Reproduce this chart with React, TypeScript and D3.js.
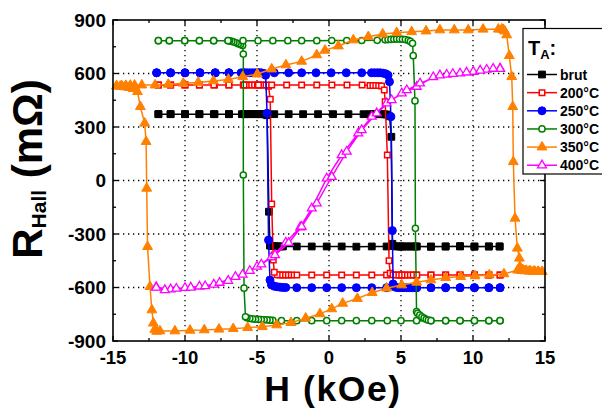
import React from 'react';
import * as d3 from 'd3';

type Pt = [number, number];

// H (kOe), R_Hall (mΩ) — descending sweep then ascending sweep
const brut: Pt[] = [
  [11.85,-370],[11.1,-370],[10.1,-371],[9.1,-370],[8.1,-370],[7.08,-372],[6.05,-370],[5.0,-370],[4.0,-370],[2.97,-370],[1.9,-371],[0.88,-370],[-0.16,-370],[-1.2,-370],[-2.24,-370],[-3.2,-370],[-3.4,-370],[-3.6,-369],[-3.8,-368],[-4.0,-367],[-4.1,-365],[-4.17,-175],[-4.3,366],[-4.45,371],[-4.65,372],[-4.85,372],[-5.05,372],[-5.25,372],[-5.45,372],[-5.65,372],[-5.85,372],[-6.05,372],[-6.95,372],[-7.95,372],[-9.0,372],[-10.0,372],[-11.0,372],[-11.85,372],
  [-11.85,372],[-11.0,372],[-10.0,372],[-9.0,372],[-8.0,372],[-6.95,372],[-5.9,372],[-4.85,372],[-3.8,372],[-2.8,372],[-1.8,372],[-0.76,372],[0.28,372],[1.35,372],[2.4,372],[2.85,372],[3.05,372],[3.25,372],[3.45,372],[3.65,372],[3.85,371],[4.0,370],[4.2,360],[4.33,245],[4.4,-355],[4.5,-368],[4.7,-370],[4.9,-370],[5.1,-370],[5.3,-370],[5.5,-370],[5.7,-370],[5.9,-370],[6.1,-370],[7.08,-370],[8.1,-370],[9.1,-368],[10.1,-370],[11.1,-370],[11.85,-370],
];

const t200: Pt[] = [
  [11.88,-530],[11.1,-530],[10.1,-530],[9.1,-530],[8.1,-530],[7.08,-530],[6.05,-530],[5.0,-530],[4.0,-530],[2.97,-530],[1.9,-530],[0.88,-530],[-0.16,-530],[-1.2,-530],[-2.24,-530],[-2.6,-530],[-2.8,-530],[-3.0,-530],[-3.2,-530],[-3.4,-530],[-3.6,-528],[-3.8,-515],[-3.87,-446],[-3.98,-132],[-4.08,455],[-4.2,528],[-4.35,535],[-4.55,535],[-4.75,535],[-4.95,535],[-5.15,535],[-5.35,535],[-5.55,535],[-5.75,535],[-5.95,535],[-6.95,535],[-7.95,535],[-9.0,535],[-10.0,535],[-11.0,535],[-11.85,535],
  [-11.85,535],[-11.0,535],[-10.0,535],[-9.0,535],[-8.0,535],[-6.95,535],[-5.9,535],[-4.9,535],[-3.98,535],[-2.94,535],[-1.9,535],[-0.85,535],[0.2,535],[1.25,535],[2.3,535],[2.85,533],[3.05,533],[3.25,533],[3.45,532],[3.65,530],[3.84,507],[3.9,442],[4.05,143],[4.17,-450],[4.25,-520],[4.45,-528],[4.65,-530],[4.85,-530],[5.05,-530],[5.25,-530],[5.45,-530],[5.65,-530],[5.85,-530],[6.1,-530],[7.08,-530],[8.1,-530],[9.1,-530],[10.1,-530],[11.1,-530],[11.88,-530],
];

const t250: Pt[] = [
  [11.88,-601],[11.1,-601],[10.1,-601],[9.1,-601],[8.1,-601],[7.08,-601],[6.05,-601],[5.0,-601],[4.0,-601],[2.97,-601],[1.9,-601],[0.88,-601],[-0.16,-601],[-1.2,-601],[-2.24,-601],[-3.0,-600],[-3.2,-600],[-3.4,-598],[-3.6,-596],[-3.8,-593],[-4.0,-585],[-4.1,-558],[-4.2,-334],[-4.3,377],[-4.4,590],[-4.5,600],[-4.7,604],[-4.9,604],[-5.1,604],[-5.3,604],[-5.5,604],[-5.7,604],[-5.9,604],[-6.1,604],[-6.95,604],[-7.9,604],[-8.96,604],[-10.0,604],[-11.0,604],[-11.97,604],
  [-11.97,604],[-11.0,604],[-10.0,604],[-8.96,604],[-7.9,604],[-6.95,604],[-5.9,604],[-4.85,604],[-3.8,604],[-2.8,604],[-1.9,604],[-0.9,604],[0.15,604],[1.2,604],[2.27,604],[2.95,604],[3.15,604],[3.35,604],[3.55,604],[3.75,602],[3.95,598],[4.1,590],[4.2,554],[4.3,358],[4.4,-281],[4.45,-580],[4.6,-598],[4.8,-601],[5.0,-601],[5.2,-601],[5.4,-601],[5.6,-601],[5.8,-601],[6.0,-601],[6.1,-601],[7.08,-601],[8.1,-601],[9.1,-601],[10.1,-601],[11.1,-601],[11.88,-601],
];

const t300: Pt[] = [
  [11.88,-786],[11.1,-786],[10.1,-786],[9.1,-786],[8.1,-786],[7.08,-786],[6.08,-786],[5.0,-786],[4.05,-786],[2.97,-786],[1.9,-786],[0.88,-786],[-0.16,-786],[-1.2,-786],[-2.24,-786],[-3.3,-786],[-3.9,-784],[-4.1,-783],[-4.3,-782],[-4.5,-781],[-4.7,-780],[-4.9,-779],[-5.1,-778],[-5.3,-776],[-5.5,-774],[-5.7,-770],[-5.8,-764],[-5.9,-604],[-5.95,31],[-5.95,709],[-6.0,757],[-6.15,762],[-6.3,767],[-6.45,772],[-6.6,776],[-6.75,780],[-6.9,783],[-7.01,784],[-8.01,784],[-9.0,784],[-10.02,784],[-11.09,784],[-11.85,784],
  [-11.85,784],[-11.09,784],[-10.02,784],[-9.0,784],[-8.01,784],[-7.01,784],[-5.97,784],[-4.93,784],[-3.9,784],[-2.86,784],[-1.9,784],[-0.85,784],[0.19,785],[1.23,785],[2.27,785],[3.35,786],[3.9,789],[4.1,790],[4.3,791],[4.5,792],[4.7,793],[4.9,793],[5.1,792],[5.3,790],[5.5,786],[5.65,780],[5.8,769],[5.85,700],[5.97,446],[6.0,-268],[6.08,-735],[6.15,-745],[6.3,-755],[6.45,-765],[6.6,-772],[6.75,-778],[6.9,-783],[7.08,-786],[8.1,-786],[9.1,-786],[10.1,-786],[11.1,-786],[11.88,-786],
];

const t350: Pt[] = [
  [14.8,-511],[14.5,-511],[14.2,-510],[13.9,-509],[13.6,-507],[13.35,-505],[13.1,-503],[12.15,-524],[11.13,-530],[10.14,-535],[9.15,-539],[8.1,-545],[7.08,-558],[6.09,-571],[5.05,-586],[4.0,-604],[3.0,-629],[1.97,-662],[0.95,-689],[0.19,-720],[-0.63,-748],[-1.62,-772],[-2.64,-797],[-3.63,-810],[-4.63,-820],[-5.65,-825],[-6.65,-831],[-7.64,-834],[-8.66,-838],[-9.65,-840],[-10.7,-844],[-11.74,-844],[-11.97,-846],[-12.1,-835],[-12.2,-800],[-12.3,-726],[-12.43,-595],[-12.6,-371],[-12.66,-44],[-12.7,218],[-12.8,321],[-13.1,414],[-13.3,498],[-13.6,515],[-13.9,521],[-14.2,525],[-14.5,528],[-14.75,530],
  [-14.75,530],[-14.4,531],[-14.1,532],[-13.8,533],[-13.5,534],[-13.0,535],[-12.08,535],[-11.16,539],[-10.12,545],[-9.08,550],[-8.03,558],[-6.99,567],[-5.99,582],[-4.98,597],[-3.98,625],[-2.99,648],[-1.9,668],[-0.85,704],[-0.28,730],[0.65,754],[1.69,788],[2.73,806],[3.73,821],[4.7,829],[5.74,834],[6.74,838],[7.7,844],[8.7,844],[9.67,844],[10.7,848],[11.76,848],[12.0,849],[12.1,846],[12.2,838],[12.34,816],[12.52,700],[12.69,582],[12.76,414],[12.8,105],[12.92,-212],[13.08,-380],[13.22,-436],[13.26,-483],[13.45,-500],[13.7,-505],[14.0,-508],[14.3,-510],[14.55,-511],[14.8,-511],
];

const t400: Pt[] = [
  [-12.0,-598],[-11.0,-610],[-10.0,-602],[-9.0,-594],[-8.0,-583],[-7.0,-562],[-6.0,-528],[-5.0,-483],[-4.0,-430],[-3.0,-348],[-2.0,-262],[-1.2,-156],[-0.16,12],[0.88,143],[2.03,265],[2.97,358],[4.0,433],[5.05,489],[6.09,526],[7.24,580],[8.17,594],[9.1,601],[10.02,610],[10.95,622],[11.88,628],
  [11.88,626],[11.4,627],[10.5,617],[9.55,606],[8.6,598],[7.7,590],[6.32,545],[5.4,507],[4.35,451],[3.31,377],[2.27,283],[1.23,162],[0.19,21],[-0.85,-128],[-1.9,-259],[-2.8,-350],[-3.75,-418],[-4.7,-470],[-5.5,-507],[-6.5,-540],[-7.6,-573],[-8.6,-592],[-9.6,-600],[-10.6,-606],[-11.4,-614],[-12.0,-600],
];

const seriesNames = ['brut', '200°C', '250°C', '300°C', '350°C', '400°C'];
const seriesColors = ['#000000', '#ff0000', '#0000ff', '#008000', '#ff8000', '#ff00ff'];
const seriesData = [brut, t200, t250, t300, t350, t400];

const xTicks = [-15, -10, -5, 0, 5, 10, 15];
const yTicks = [-900, -600, -300, 0, 300, 600, 900];
const xMinor = [-12.5, -7.5, -2.5, 2.5, 7.5, 12.5];
const yMinor = [-750, -450, -150, 150, 450, 750];
const xGrid = [-10, -5, 0, 5, 10];
const yGrid = [-600, -300, 0, 300, 600];

const W = 602, H = 416;
const L = 113, R = 545, T = 20, B = 341;
const FONT = '"Liberation Sans", Arial, Helvetica, sans-serif';

type MarkerSpec = { type: d3.SymbolType; size: number; open: boolean; sw: number };
const markers: MarkerSpec[] = [
  { type: d3.symbolSquare, size: 46, open: false, sw: 1 },
  { type: d3.symbolSquare, size: 30, open: true, sw: 1.5 },
  { type: d3.symbolCircle, size: 50, open: false, sw: 1 },
  { type: d3.symbolCircle, size: 30, open: true, sw: 1.5 },
  { type: d3.symbolTriangle, size: 42, open: false, sw: 1 },
  { type: d3.symbolTriangle, size: 34, open: true, sw: 1.3 },
];

function Marker({ i, x, y }: { i: number; x: number; y: number }) {
  const m = markers[i];
  const c = seriesColors[i];
  const d = d3.symbol().type(m.type).size(m.size)() as string;
  return (
    <path
      d={d}
      transform={`translate(${x},${y})`}
      fill={m.open ? '#ffffff' : c}
      stroke={c}
      strokeWidth={m.sw}
    />
  );
}

export default function App() {
  const x = d3.scaleLinear().domain([-15, 15]).range([L, R]);
  const y = d3.scaleLinear().domain([-900, 900]).range([B, T]);
  const line = d3.line<Pt>().x((d) => x(d[0])).y((d) => y(d[1]));

  const legendY0 = 74.5;
  const legendDy = 18.15;

  return (
    <svg width={W} height={H} style={{ position: 'absolute', left: 0, top: 0, background: '#fff' }} fontFamily={FONT}>
      <rect x={0} y={0} width={W} height={H} fill="#fff" />
      {/* grid */}
      {xGrid.map((v) => (
        <line key={'gx' + v} x1={x(v)} x2={x(v)} y1={T} y2={B} stroke="#000" strokeWidth={1.3} strokeDasharray="1.3 3.7" />
      ))}
      {yGrid.map((v) => (
        <line key={'gy' + v} x1={L} x2={R} y1={y(v)} y2={y(v)} stroke="#000" strokeWidth={1.3} strokeDasharray="1.3 3.7" />
      ))}

      {/* data */}
      {seriesData.map((data, i) => (
        <g key={'s' + i}>
          <path d={line(data) as string} fill="none" stroke={seriesColors[i]} strokeWidth={1.5} />
          {data.map((p, j) => (
            <Marker key={j} i={i} x={x(p[0])} y={y(p[1])} />
          ))}
        </g>
      ))}

      {/* frame */}
      <rect x={L} y={T} width={R - L} height={B - T} fill="none" stroke="#000" strokeWidth={1.6} />
      {/* ticks */}
      {xTicks.map((v) => (
        <g key={'xt' + v}>
          <line x1={x(v)} x2={x(v)} y1={B} y2={B - 5} stroke="#000" strokeWidth={1.3} />
          <line x1={x(v)} x2={x(v)} y1={T} y2={T + 5} stroke="#000" strokeWidth={1.3} />
          <text x={x(v)} y={364} textAnchor="middle" fontSize={18.5} fontWeight="bold">{v}</text>
        </g>
      ))}
      {xMinor.map((v) => (
        <g key={'xm' + v}>
          <line x1={x(v)} x2={x(v)} y1={B} y2={B - 3} stroke="#000" strokeWidth={1.3} />
          <line x1={x(v)} x2={x(v)} y1={T} y2={T + 3} stroke="#000" strokeWidth={1.3} />
        </g>
      ))}
      {yTicks.map((v) => (
        <g key={'yt' + v}>
          <line x1={L} x2={L + 5} y1={y(v)} y2={y(v)} stroke="#000" strokeWidth={1.3} />
          <line x1={R} x2={R - 5} y1={y(v)} y2={y(v)} stroke="#000" strokeWidth={1.3} />
          <text x={106} y={y(v) + 6.8} textAnchor="end" fontSize={19} fontWeight="bold">{v}</text>
        </g>
      ))}
      {yMinor.map((v) => (
        <g key={'ym' + v}>
          <line x1={L} x2={L + 3} y1={y(v)} y2={y(v)} stroke="#000" strokeWidth={1.3} />
          <line x1={R} x2={R - 3} y1={y(v)} y2={y(v)} stroke="#000" strokeWidth={1.3} />
        </g>
      ))}

      {/* axis titles */}
      <text x={333} y={401} textAnchor="middle" fontSize={35.5} fontWeight="bold" letterSpacing={1.6}>H (kOe)</text>
      <text transform="rotate(-90)" x={-169} y={42} textAnchor="middle" fontSize={42} fontWeight="bold">
        R<tspan fontSize={21} dy={4}>Hall</tspan><tspan dy={-4}> (mΩ)</tspan>
      </text>

      {/* legend */}
      <g>
        <rect x={523} y={28.5} width={100} height={145.5} fill="#fff" stroke="#000" strokeWidth={1.2} />
        <text x={528} y={55} fontSize={20} fontWeight="bold">
          T<tspan fontSize={13} dy={4}>A</tspan><tspan dy={-4}>:</tspan>
        </text>
        {seriesNames.map((n, i) => {
          const cy = legendY0 + i * legendDy;
          return (
            <g key={'lg' + i}>
              <line x1={527} x2={557} y1={cy} y2={cy} stroke={seriesColors[i]} strokeWidth={1.5} />
              <Marker i={i} x={542} y={cy} />
              <text x={560} y={cy + 5} fontSize={14} fontWeight="bold">{n}</text>
            </g>
          );
        })}
      </g>
    </svg>
  );
}
